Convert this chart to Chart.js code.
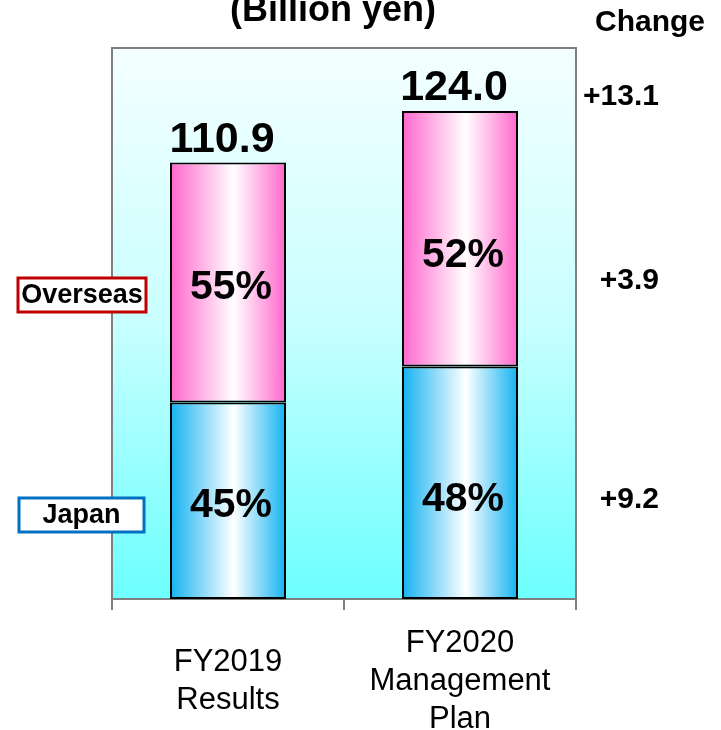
<!DOCTYPE html>
<html>
<head>
<meta charset="utf-8">
<script src="https://cdn.jsdelivr.net/npm/chart.js@4/dist/chart.umd.min.js"></script>
<style>
  html, body { margin: 0; padding: 0; background: #ffffff; }
  #wrap { width: 721px; height: 730px; }
</style>
</head>
<body>
<div id="wrap"><canvas id="c" width="721" height="730"></canvas></div>
<script>
// ---- data ----
const categories = [["FY2019", "Results"], ["FY2020", "Management", "Plan"]];
const japan = [49.9, 59.1];
const overseas = [61.0, 64.9];
const totals = [110.9, 124.0];
const seriesNames = ["Japan", "Overseas"];
const titleText = "(Billion yen)";
const changeHeader = "Change";

const FONT = "'Liberation Sans', Arial, Helvetica, sans-serif";
const pctShift = [5, 17]; // style: vertical nudge of % labels per bar

function barGradient(ctx, c1) {
  const chart = ctx.chart;
  const area = chart.chartArea;
  if (!area) return c1;
  const xs = chart.scales.x;
  const cx = xs.getPixelForValue(ctx.dataIndex);
  const w = (area.right - area.left) / categories.length * 0.5;
  const g = chart.ctx.createLinearGradient(cx - w / 2, 0, cx + w / 2, 0);
  g.addColorStop(0, c1);
  g.addColorStop(0.55, '#ffffff');
  g.addColorStop(1, c1);
  return g;
}

const decor = {
  id: 'decor',
  beforeDatasetsDraw(chart) {
    const { ctx, chartArea: a } = chart;
    ctx.save();
    const g = ctx.createLinearGradient(0, a.top, 0, a.bottom);
    g.addColorStop(0, '#f5ffff');
    g.addColorStop(0.5, '#c8ffff');
    g.addColorStop(1, '#6cffff');
    ctx.fillStyle = g;
    ctx.fillRect(a.left, a.top, a.right - a.left, a.bottom - a.top);
    ctx.strokeStyle = '#808080';
    ctx.lineWidth = 2;
    ctx.strokeRect(a.left, a.top, a.right - a.left, a.bottom - a.top);
    ctx.restore();
  },
  afterDatasetsDraw(chart) {
    const { ctx, chartArea: a } = chart;
    const m0 = chart.getDatasetMeta(0).data; // Japan
    const m1 = chart.getDatasetMeta(1).data; // Overseas
    ctx.save();
    ctx.fillStyle = '#000';
    // totals
    ctx.font = 'bold 43px ' + FONT;
    ctx.textAlign = 'center';
    ctx.textBaseline = 'alphabetic';
    totals.forEach((t, i) => {
      ctx.fillText(t.toFixed(1), m1[i].x - 6, m1[i].y - 11);
    });
    // percentages
    ctx.font = 'bold 41px ' + FONT;
    ctx.textBaseline = 'middle';
    totals.forEach((t, i) => {
      const pj = Math.round(japan[i] / t * 100);
      const po = Math.round(overseas[i] / t * 100);
      const jy = (m0[i].y + m0[i].base) / 2 + pctShift[i];
      const oy = (m1[i].y + m1[i].base) / 2 + pctShift[i];
      ctx.fillText(pj + '%', m0[i].x + 3, jy);
      ctx.fillText(po + '%', m1[i].x + 3, oy);
    });
    // change column
    const rx = a.right + 83;
    ctx.font = 'bold 30px ' + FONT;
    ctx.textAlign = 'right';
    const dT = totals[1] - totals[0];
    const dO = overseas[1] - overseas[0];
    const dJ = japan[1] - japan[0];
    const sgn = v => (v >= 0 ? '+' : '') + v.toFixed(1);
    ctx.fillText(sgn(dT), rx, m1[1].y - 14);
    ctx.fillText(sgn(dO), rx, (m1[0].y + m1[0].base) / 2 - 2);
    ctx.fillText(sgn(dJ), rx, (m0[0].y + m0[0].base) / 2 - 1);
    // header texts
    ctx.textAlign = 'center';
    ctx.textBaseline = 'alphabetic';
    ctx.font = 'bold 30px ' + FONT;
    ctx.fillText(changeHeader, 650, 31);
    ctx.font = 'bold 36px ' + FONT;
    ctx.fillText(titleText, 333, 21);
    // legend boxes
    const boxes = [
      { name: seriesNames[1], x: 18, y: 278, w: 128, h: 34, color: '#c00000' },
      { name: seriesNames[0], x: 19, y: 498, w: 125, h: 34, color: '#0070c0' }
    ];
    ctx.font = 'bold 27px ' + FONT;
    ctx.textBaseline = 'middle';
    boxes.forEach(b => {
      ctx.fillStyle = '#ffffff';
      ctx.fillRect(b.x, b.y, b.w, b.h);
      ctx.strokeStyle = b.color;
      ctx.lineWidth = 3;
      ctx.strokeRect(b.x, b.y, b.w, b.h);
      ctx.fillStyle = '#000';
      ctx.fillText(b.name, b.x + b.w / 2, b.y + b.h / 2 + 1);
    });
    ctx.restore();
  }
};

new Chart(document.getElementById('c'), {
  type: 'bar',
  data: {
    labels: categories,
    datasets: [
      {
        label: seriesNames[0],
        data: japan,
        backgroundColor: ctx => barGradient(ctx, '#12b2f0'),
        borderColor: '#000',
        borderWidth: 2,
        borderSkipped: false,
        barPercentage: 0.5,
        categoryPercentage: 1.0
      },
      {
        label: seriesNames[1],
        data: overseas,
        backgroundColor: ctx => barGradient(ctx, '#ff66cc'),
        borderColor: '#000',
        borderWidth: 2,
        borderSkipped: false,
        barPercentage: 0.5,
        categoryPercentage: 1.0
      }
    ]
  },
  options: {
    responsive: false,
    animation: false,
    layout: { padding: { left: 112, right: 145, top: 48, bottom: 0 } },
    plugins: {
      legend: { display: false },
      tooltip: { enabled: false },
      title: { display: false }
    },
    scales: {
      x: {
        stacked: true,
        afterFit(scale) { scale.height = 131; },
        grid: {
          offset: true,
          drawOnChartArea: false,
          drawTicks: true,
          tickLength: 11,
          color: '#808080',
          lineWidth: 2
        },
        border: { display: false },
        ticks: {
          color: '#000',
          font: { family: FONT, size: 31, lineHeight: 1.23 },
          padding: 33,
          crossAlign: 'center',
          maxRotation: 0,
          autoSkip: false
        }
      },
      y: {
        stacked: true,
        display: false,
        min: 0,
        max: 140
      }
    }
  },
  plugins: [decor]
});
</script>
</body>
</html>
